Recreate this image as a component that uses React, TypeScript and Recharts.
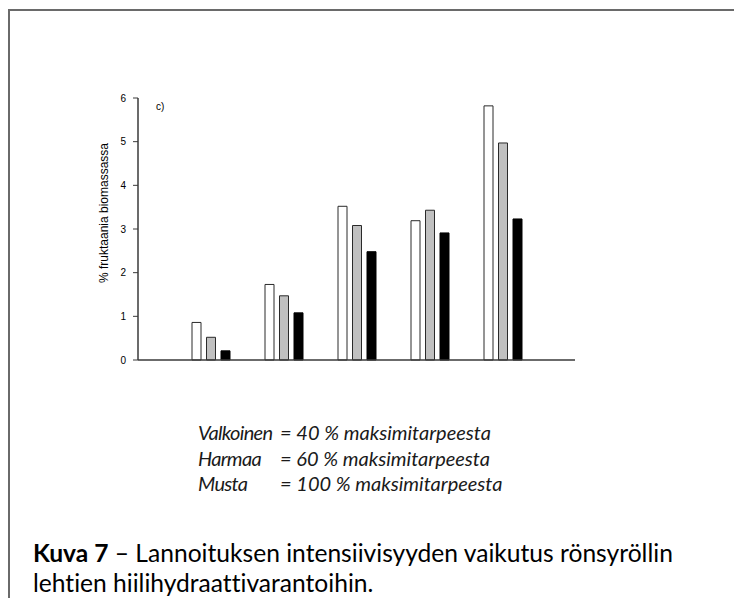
import React from "react";
import { BarChart, Bar, XAxis, YAxis } from "recharts";

const categories = ["1", "2", "3", "4", "5"];
const valkoinen = [0.86, 1.73, 3.52, 3.19, 5.82];
const harmaa = [0.52, 1.47, 3.08, 3.43, 4.97];
const musta = [0.21, 1.08, 2.48, 2.91, 3.23];
const yTicks = [0, 1, 2, 3, 4, 5, 6];

const legendNames = ["Valkoinen", "Harmaa", "Musta"];
const legendValues = ["= 40 % maksimitarpeesta", "= 60 % maksimitarpeesta", "= 100 % maksimitarpeesta"];

const data = categories.map((c, i) => ({
  cat: c,
  valkoinen: valkoinen[i],
  harmaa: harmaa[i],
  musta: musta[i],
}));

const axisColor = "#3a3a3a";
const legendFont = "Lato, 'Open Sans', sans-serif";
const arial = "'Liberation Sans', Arial, sans-serif";

export default function App() {
  return (
    <div style={{ position: "absolute", left: 0, top: 0, width: 734, height: 598, background: "#fff", overflow: "hidden", fontVariantLigatures: "none" }}>
      <div
        style={{
          position: "absolute",
          left: 8,
          top: 9,
          width: 740,
          height: 600,
          borderTop: "2px solid #6a6a6a",
          borderLeft: "2px solid #6a6a6a",
          boxSizing: "border-box",
        }}
      />
      <div style={{ position: "absolute", left: 0, top: 0 }}>
        <BarChart
          width={734}
          height={598}
          data={data}
          margin={{ top: 98, right: 159, bottom: 228, left: 108 }}
          barSize={9}
          barGap={5.5}
        >
          <XAxis
            dataKey="cat"
            height={10}
            padding={{ left: 36, right: 36 }}
            tick={false}
            tickSize={4}
            tickLine={{ stroke: axisColor, strokeWidth: 1 }}
            axisLine={{ stroke: axisColor, strokeWidth: 1.5 }}
          />
          <YAxis
            width={30}
            domain={[0, 6]}
            ticks={yTicks}
            interval={0}
            tickSize={5}
            tickMargin={7}
            tick={{ fontSize: 10, fill: "#000", fontFamily: arial }}
            tickLine={{ stroke: axisColor, strokeWidth: 1 }}
            axisLine={{ stroke: axisColor, strokeWidth: 1.5 }}
          />
          <Bar dataKey="valkoinen" fill="#ffffff" stroke="#2a2a2a" strokeWidth={1} isAnimationActive={false} />
          <Bar dataKey="harmaa" fill="#c0c0c0" stroke="#2a2a2a" strokeWidth={1} isAnimationActive={false} />
          <Bar dataKey="musta" fill="#000000" stroke="#000000" strokeWidth={1} isAnimationActive={false} />
        </BarChart>
      </div>
      <div
        style={{
          position: "absolute",
          left: 104,
          top: 213,
          transform: "translate(-50%, -50%) rotate(-90deg)",
          fontFamily: arial,
          fontSize: 12,
          lineHeight: "14px",
          whiteSpace: "nowrap",
          color: "#000",
        }}
      >
        % fruktaania biomassassa
      </div>
      <div
        style={{
          position: "absolute",
          left: 156,
          top: 101,
          fontFamily: arial,
          fontSize: 10,
          lineHeight: "12px",
          color: "#000",
        }}
      >
        c)
      </div>
      {legendNames.map((n, i) => (
        <React.Fragment key={n}>
          <div
            style={{
              position: "absolute",
              left: 198,
              top: 420 + i * 25.5,
              fontFamily: legendFont,
              fontStyle: "italic",
              fontSize: 20,
              lineHeight: "24px",
              letterSpacing: -0.7,
              whiteSpace: "nowrap",
              color: "#1a1a1a",
            }}
          >
            {n}
          </div>
          <div
            style={{
              position: "absolute",
              left: 280,
              top: 420 + i * 25.5,
              fontFamily: legendFont,
              fontStyle: "italic",
              fontSize: 20,
              lineHeight: "24px",
              whiteSpace: "nowrap",
              color: "#1a1a1a",
            }}
          >
            {legendValues[i]}
          </div>
        </React.Fragment>
      ))}
      <div
        style={{
          position: "absolute",
          left: 33,
          top: 538,
          fontFamily: legendFont,
          fontSize: 24.6,
          lineHeight: "30px",
          whiteSpace: "nowrap",
          color: "#000",
        }}
      >
        <span style={{ fontWeight: 700 }}>Kuva 7</span> – Lannoituksen intensiivisyyden vaikutus rönsyröllin
      </div>
      <div
        style={{
          position: "absolute",
          left: 33,
          top: 568,
          fontFamily: legendFont,
          fontSize: 24.6,
          lineHeight: "30px",
          whiteSpace: "nowrap",
          color: "#000",
        }}
      >
        lehtien hiilihydraattivarantoihin.
      </div>
    </div>
  );
}
